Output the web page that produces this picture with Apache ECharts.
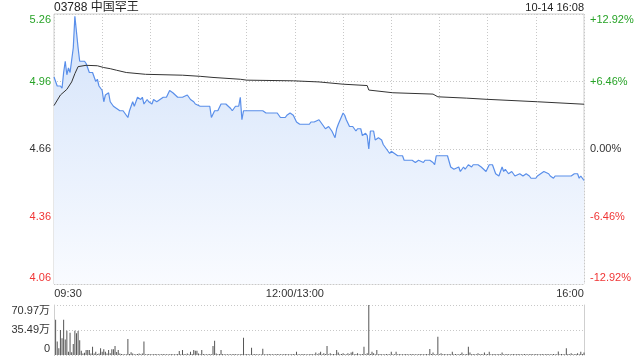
<!DOCTYPE html>
<html><head><meta charset="utf-8">
<script src="https://cdn.jsdelivr.net/npm/echarts@6/dist/echarts.min.js"></script>
<style>html,body{margin:0;padding:0;background:#fff}#c{width:640px;height:360px}</style>
</head><body><div id="c"></div>
<script>
const titleText = '03788 中国罕王';
const stampText = '10-14 16:08';
const priceTicks = ['4.06', '4.36', '4.66', '4.96', '5.26'];
const pctTicks = ['-12.92%', '-6.46%', '0.00%', '+6.46%', '+12.92%'];
const volTicks = ['0', '35.49万', '70.97万'];
const timeLabels = {0: '09:30', 150: '12:00/13:00', 330: '16:00'};

const priceMinutes = [0,2,4,5,6,7,8,9,10,12,13,15,16,17,19,20,21,22,24,26,27,28,30,31,32,34,35,37,39,41,43,46,47,49,50,52,54,55,56,58,59,61,62,64,66,68,70,72,74,75,77,80,83,85,87,88,91,97,98,100,102,104,107,110,111,113,115,116,117,118,130,132,139,141,144,145,147,149,151,153,159,160,162,165,166,169,171,173,175,176,177,180,181,182,184,186,188,189,191,192,194,195,196,197,199,200,202,204,205,207,209,210,212,214,217,218,223,225,227,230,231,234,236,237,238,245,247,249,250,252,253,255,256,258,260,261,264,266,269,271,273,275,277,279,280,281,283,285,287,290,292,294,296,297,300,301,303,305,308,309,311,312,322,324,326,327,328,330];
const priceValues = [4.98,4.94,4.94,4.93,5.00,5.05,4.99,5.02,5.00,5.11,5.25,5.11,5.05,5.05,5.05,5.04,5.02,5.00,5.00,4.96,4.97,4.94,4.92,4.87,4.90,4.91,4.87,4.85,4.84,4.83,4.83,4.80,4.83,4.87,4.85,4.89,4.88,4.89,4.86,4.88,4.87,4.86,4.88,4.87,4.88,4.89,4.89,4.92,4.91,4.91,4.89,4.89,4.90,4.88,4.87,4.86,4.85,4.85,4.80,4.83,4.83,4.86,4.86,4.84,4.83,4.85,4.85,4.89,4.79,4.83,4.83,4.82,4.82,4.80,4.80,4.81,4.82,4.81,4.78,4.77,4.77,4.78,4.78,4.79,4.78,4.75,4.76,4.74,4.71,4.75,4.77,4.82,4.81,4.79,4.76,4.76,4.74,4.75,4.75,4.72,4.73,4.72,4.66,4.74,4.74,4.70,4.71,4.70,4.68,4.66,4.64,4.65,4.64,4.63,4.63,4.61,4.61,4.60,4.61,4.60,4.61,4.61,4.60,4.59,4.63,4.63,4.58,4.57,4.57,4.58,4.56,4.58,4.57,4.59,4.58,4.59,4.59,4.58,4.56,4.59,4.59,4.55,4.54,4.58,4.56,4.57,4.55,4.56,4.54,4.55,4.54,4.55,4.54,4.53,4.53,4.54,4.55,4.56,4.55,4.54,4.53,4.54,4.54,4.55,4.55,4.53,4.54,4.52];

const avgMinutes = [0,4,8,11,13,15,20,27,31,35,39,45,57,80,91,99,116,120,149,165,180,195,196,211,236,239,257,269,301,330];
const avgValues = [4.853,4.900,4.925,4.958,4.995,5.026,5.032,5.030,5.022,5.017,5.010,5.000,4.992,4.988,4.983,4.978,4.970,4.966,4.963,4.958,4.948,4.942,4.922,4.910,4.904,4.892,4.886,4.881,4.870,4.859];

const volumes = [
  0,50,19,9.5,35.5,23.7,50,22,34.5,4.7,
  31.7,4,15.6,34.5,30.8,34,21,6,2,3.3,
  7,7,7,2,11.8,2,4.7,1.5,2,9.5,
  4.7,8,4.7,2,7,2.5,8,8,12.8,4.3,
  7,2,1.5,1,1,1,22.7,1.5,3.8,2.3,
  1,1,1.5,2.3,1,2.3,19,1.2,1,1.5,
  1,1.2,1,1.5,1,1,1.2,1,1.5,1,
  1.2,1,1,1.5,1,1.2,1,1.5,5.7,1,
  7,1.5,1,2.3,1,4.7,1.5,7,6,6,
  2.3,1,7,1.5,1,1.2,1,1.5,1,12.8,
  20.3,2.3,1,1.5,7,1.5,1,1.2,1,1,
  1.2,1,1.5,1,1,1.2,1,1.5,24.6,1,
  1.5,1,1.2,10.4,1,1.5,1,1,1.2,1,
  9,1,1.2,1,1.5,1,1,1.2,1,1.5,
  1,1.2,1,1,1.5,1,1.2,1,1,1.5,
  1,4.7,1,1.2,1,1.5,1,1,1.2,1,
  1.5,1,1.2,3.5,1,2.5,4.5,1,2.5,1.5,
  12.8,1,2.5,1,1.5,1.2,7,3.5,1,1.5,
  2.5,1,1.2,2.5,1,3.5,4.5,1,1.5,2.5,
  1,1.2,1.5,11.8,1,2.5,70.97,1.5,4.5,2.5,
  1,7,1.2,1.5,1,1.2,1,1.5,1,1.2,
  4.5,1,1.2,4.5,1,1.5,1,1.2,1,1.5,
  1,1.2,1,1.5,1,1.2,1,1,1.5,1,
  1.2,1,1.5,1,8.5,1.5,3.5,1,1.2,26,
  1,2.5,1,1.5,1.2,1,1.5,1,4.5,1,
  1.5,1,1.2,1.5,3.5,1,1.2,1.5,11.8,3.5,
  1,1.5,1.2,1,2.5,1,1.5,1.2,3.5,1,
  1.5,4.5,1,1.2,1.5,1,1.2,1.5,1,3.5,
  1,1.2,1.5,1,1.2,1,1.5,1,1.2,1.5,
  1,1.2,1,1.5,1,1.2,1,1.5,1,1.2,
  1.5,1,1.2,1,1.5,1,1.2,1.5,1,1.2,
  1,1.5,1.2,1,5,1,1.5,1.2,1,9.5,
  1.5,1,2.5,1,1.2,1.5,2.5,1,4.5,1.5,3.5
];

const GREEN = '#27a327', RED = '#f03535', DARK = '#333';
const FONT = '"Liberation Sans", Arial, "Noto Sans CJK SC", sans-serif';
const priceData = priceMinutes.map((m, i) => [m, priceValues[i]]);
const avgData = avgMinutes.map((m, i) => [m, avgValues[i]]);
const volData = volumes.map((v, i) => [i, v]);

function sideStyle(i, n) { return i === 0 ? 'b' : (i === n - 1 ? 't' : 'm'); }
const leftColors = [RED, RED, DARK, GREEN, GREEN];
const rich = {};
['t', 'm', 'b'].forEach(p => {
  [['g', GREEN], ['r', RED], ['k', DARK]].forEach(([c, col]) => {
    rich[c + p] = {
      color: col, fontSize: 11, fontFamily: FONT,
      padding: p === 't' ? [12, 0, 0, 0] : (p === 'b' ? [0, 0, 12, 0] : 0)
    };
  });
});
function colKey(col) { return col === GREEN ? 'g' : (col === RED ? 'r' : 'k'); }

const chart = echarts.init(document.getElementById('c'), null, {renderer: 'canvas'});
const dotted = {type: [1, 2], color: '#c8c8c8', width: 1};
chart.setOption({
  animation: false,
  textStyle: {fontFamily: FONT},
  title: [
    {text: titleText, left: 54, top: 2, padding: 0, textStyle: {fontSize: 12, fontWeight: 'normal', color: '#222', fontFamily: FONT}},
    {text: stampText, right: 56, top: 2, padding: 0, textStyle: {fontSize: 11, fontWeight: 'normal', color: '#222', fontFamily: FONT}}
  ],
  graphic: [{type: 'text', right: 67, top: 274, style: {text: 'sina.com', fill: '#cccccc', font: '10.5px ' + FONT}}],
  grid: [
    {left: 54, right: 56, top: 14, height: 270, show: true, borderColor: '#cfcfcf', borderWidth: 1, backgroundColor: 'transparent'},
    {left: 54, right: 56, top: 305, height: 50}
  ],
  xAxis: [
    {type: 'value', gridIndex: 0, min: 0, max: 330, interval: 30,
     axisLine: {show: false}, axisTick: {show: false},
     splitLine: {show: true, lineStyle: dotted},
     axisLabel: {show: true, margin: 4, fontSize: 11, color: DARK, fontFamily: FONT,
       formatter: v => {
         const t = timeLabels[v];
         if (!t) return '';
         if (v === 0) return '{l|' + t + '}';
         if (v === 330) return '{r|' + t + '}';
         return '{c|' + t + '}';
       },
       rich: {
         l: {fontSize: 11, color: DARK, fontFamily: FONT, padding: [0, 0, 0, 28]},
         r: {fontSize: 11, color: DARK, fontFamily: FONT, padding: [0, 28, 0, 0]},
         c: {fontSize: 11, color: DARK, fontFamily: FONT}
       }}},
    {type: 'value', gridIndex: 1, min: 0, max: 330, interval: 30,
     axisLine: {show: false}, axisTick: {show: false}, axisLabel: {show: false}, splitLine: {show: false}}
  ],
  yAxis: [
    {type: 'value', gridIndex: 0, min: 4.06, max: 5.26, interval: 0.30, position: 'left',
     axisLine: {show: false}, axisTick: {show: false},
     splitLine: {show: true, lineStyle: dotted},
     axisLabel: {margin: 3, formatter: (v, i) => {
       const c = colKey(leftColors[i]);
       return '{' + c + sideStyle(i, 5) + '|' + priceTicks[i] + '}';
     }, rich: rich}},
    {type: 'value', gridIndex: 0, min: 4.06, max: 5.26, interval: 0.30, position: 'right',
     axisLine: {show: false}, axisTick: {show: false}, splitLine: {show: false},
     axisLabel: {margin: 6, formatter: (v, i) => {
       const c = colKey(leftColors[i]);
       return '{' + c + sideStyle(i, 5) + '|' + pctTicks[i] + '}';
     }, rich: rich}},
    {type: 'value', gridIndex: 1, min: 0, max: 70.97, interval: 35.485, position: 'left',
     axisLine: {show: true, lineStyle: {color: '#cfcfcf'}}, axisTick: {show: false},
     splitLine: {show: true, lineStyle: dotted},
     axisLabel: {margin: 4, formatter: (v, i) => '{k' + sideStyle(i, 3) + '|' + volTicks[i] + '}', rich: rich}},
    {type: 'value', gridIndex: 1, min: 0, max: 70.97, interval: 35.485, position: 'right',
     axisLine: {show: true, lineStyle: {color: '#cfcfcf'}}, axisTick: {show: false},
     splitLine: {show: false}, axisLabel: {show: false}}
  ],
  series: [
    {type: 'line', xAxisIndex: 0, yAxisIndex: 0, data: priceData, symbol: 'none',
     lineStyle: {color: '#5a8fea', width: 1.2},
     areaStyle: {origin: 'start', opacity: 1, color: new echarts.graphic.LinearGradient(0, 0, 0, 1, [
       {offset: 0, color: '#d4e3fa'}, {offset: 1, color: '#f9fbff'}])},
     z: 3},
    {type: 'line', xAxisIndex: 0, yAxisIndex: 0, data: avgData, symbol: 'none',
     lineStyle: {color: '#333', width: 1}, z: 4},
    {type: 'bar', xAxisIndex: 1, yAxisIndex: 2, data: volData, barWidth: 1,
     itemStyle: {color: '#555'}, z: 3}
  ]
});
</script></body></html>
